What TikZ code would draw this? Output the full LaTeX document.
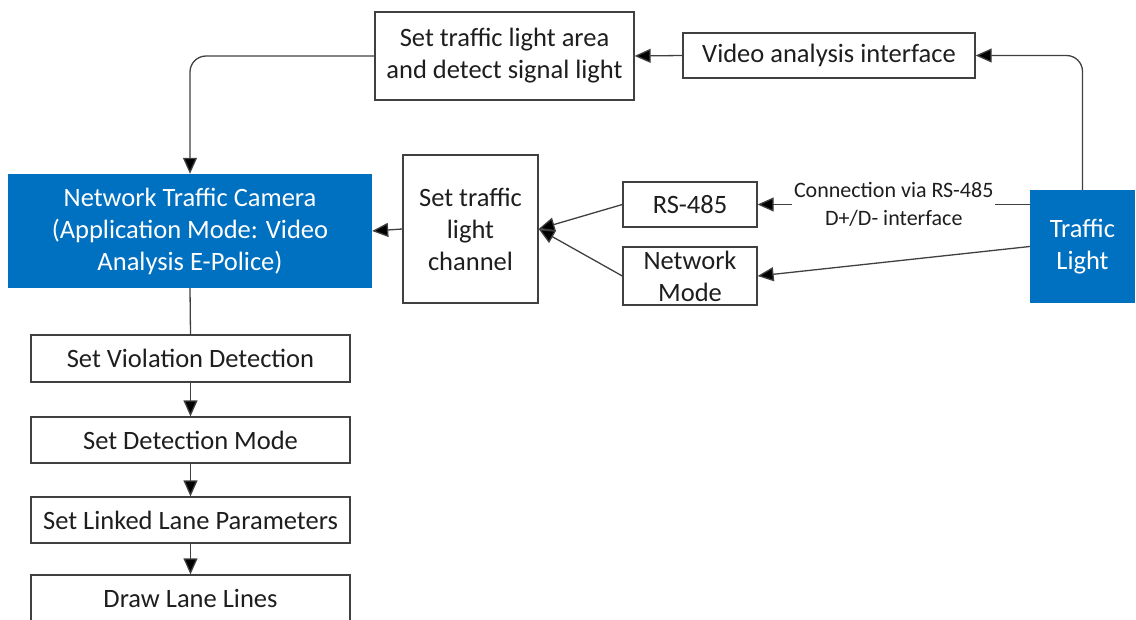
\documentclass[tikz,border=0pt]{standalone}
\usepackage{fontspec}
\setmainfont{Carlito}
\usetikzlibrary{arrows.meta,positioning}
\definecolor{camblue}{HTML}{0070C0}
\definecolor{linegray}{HTML}{404040}
\definecolor{txtdark}{HTML}{1E1E1E}

\begin{document}
\begin{tikzpicture}[
    x=1pt, y=-1pt,
    box/.style={draw=linegray, line width=1.3pt, fill=white, text=txtdark, align=center, inner sep=1pt, font=\fontsize{26.5}{32}\selectfont},
    bluebox/.style={fill=camblue, text=white, align=center, inner sep=1pt, font=\fontsize{26.5}{32}\selectfont},
    link/.style={-{Triangle[length=16pt,width=14pt,fill=black]}, line width=1.3pt, draw=linegray},
    conn/.style={fill=white, text=txtdark, align=center, inner sep=2pt, font=\fontsize{22}{28}\selectfont}
]
    \useasboundingbox (0,0) rectangle (1136,619);

    % top row: video analysis path
    \node[box, minimum width=259pt, minimum height=88pt] (area) at (504.5,56) {Set traffic light area\\and detect signal light};
    \node[box, minimum width=292pt, minimum height=45pt] (video) at (829,55.5) {Video analysis interface};

    % middle row
    \node[bluebox, minimum width=364pt, minimum height=114pt] (camera) at (190,231) {Network Traffic Camera\\(Application Mode: Video\\Analysis E-Police)};
    \node[box, minimum width=135pt, minimum height=148pt] (channel) at (470.5,229) {Set traffic\\light\\channel};
    \node[box, minimum width=134pt, minimum height=45pt] (rs) at (690,204.5) {RS-485};
    \node[box, minimum width=134pt, minimum height=58pt] (netmode) at (690,276) {Network\\Mode};
    \node[bluebox, minimum width=105pt, minimum height=113pt] (light) at (1082.5,246.5) {Traffic\\Light};

    % left column: detection settings
    \node[box, minimum width=319pt, minimum height=47pt] (viol) at (190.5,358.5) {Set Violation Detection};
    \node[box, minimum width=319pt, minimum height=46pt] (detect) at (190.5,440) {Set Detection Mode};
    \node[box, minimum width=319pt, minimum height=46pt] (lane) at (190.5,520) {Set Linked Lane Parameters};
    \node[box, minimum width=319pt, minimum height=46pt] (lines) at (190.5,598) {Draw Lane Lines};

    % connectors
    \draw[link, rounded corners=16pt] (light.north) |- (video.east);
    \draw[link] (video.west) -- (area.east);
    \draw[link, rounded corners=16pt] (area.west) -| (camera.north);
    \draw[link] (rs.east -| light.west) -- node[conn] {Connection via RS-485\\D+/D- interface} (rs.east);
    \draw[link] (light.west) -- (netmode.east);
    \draw[link] (rs.west) -- (channel.east);
    \draw[link] (netmode.west) -- (channel.east);
    \draw[link] (channel.west) -- (camera.east);
    \draw[line width=1.3pt, draw=linegray] (camera.south) -- (viol.north);
    \draw[link] (viol) -- (detect);
    \draw[link] (detect) -- (lane);
    \draw[link] (lane) -- (lines);
\end{tikzpicture}
\end{document}
